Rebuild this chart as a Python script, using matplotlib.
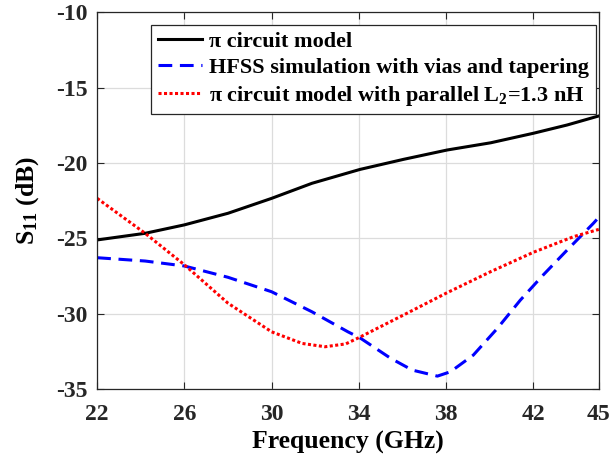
import numpy as np
import matplotlib
matplotlib.use('Agg')
from matplotlib import pyplot as plt

plt.rcParams['font.family'] = ['Liberation Serif', 'DejaVu Serif']
plt.rcParams['font.weight'] = 'bold'
plt.rcParams['axes.unicode_minus'] = False
plt.rcParams['mathtext.fontset'] = 'custom'
plt.rcParams['mathtext.rm'] = 'Liberation Serif:bold'
plt.rcParams['mathtext.it'] = 'Liberation Serif:bold'
plt.rcParams['mathtext.bf'] = 'Liberation Serif:bold'

# pi circuit model
f_pi = [22, 24.2, 26, 28, 30, 31.85, 34.05, 36.05, 38.05, 40.05, 42, 43.55, 45]
s_pi = [-25.1, -24.66, -24.1, -23.33, -22.34, -21.34, -20.42, -19.75, -19.13, -18.65, -18.02, -17.47, -16.87]

# HFSS simulation
f_hfss = [22, 24.2, 26, 28, 30, 31.85, 33.5, 34.05, 35.45, 36.45, 37.6, 38.2, 39.25, 40.35,
          41.4, 42.45, 43.55, 44.75, 45]
s_hfss = [-26.28, -26.5, -26.83, -27.58, -28.54, -29.87, -31.2, -31.6, -32.95, -33.74, -34.14,
          -33.85, -32.74, -30.97, -29.1, -27.43, -25.77, -24.0, -23.6]

# pi model with parallel L2
f_l2 = [22, 24.2, 26, 28, 30, 31.4, 32.45, 33.4, 34.05, 36.2, 38.05, 40.05, 42, 43.85, 45]
s_l2 = [-22.34, -24.66, -26.75, -29.3, -31.2, -31.97, -32.19, -32.0, -31.55, -29.97, -28.6,
        -27.2, -25.92, -24.88, -24.4]

xticks = [22, 26, 30, 34, 38, 42, 45]
yticks = [-35, -30, -25, -20, -15, -10]

fig = plt.figure(figsize=(6.11, 4.61), dpi=100)
ax = fig.add_axes([0.159, 0.156, 0.821, 0.817])

ax.plot(f_pi, s_pi, color='black', lw=2.2, label=r'π circuit model')
ax.plot(f_hfss, s_hfss, color='blue', lw=2.2, dashes=(4.5, 2.5), label='HFSS simulation with vias and tapering')
ax.plot(f_l2, s_l2, color='red', lw=2.2, dashes=(1, 0.8), label=r'π circuit model with parallel L$_2$=1.3 nH')

ax.set_xlim(22, 45)
ax.set_ylim(-35, -10)
ax.set_xticks(xticks)
ax.set_yticks(yticks)
ax.grid(True, color='#dcdcdc', lw=0.9)
ax.set_axisbelow(True)
ax.tick_params(direction='in', top=True, right=True, labelsize=17, colors='#262626', length=5)
ax.tick_params(axis='x', pad=11)
ax.tick_params(axis='y', pad=7)
for sp in ax.spines.values():
    sp.set_color('#262626')
    sp.set_linewidth(0.9)
ax.set_xlabel('Frequency (GHz)', fontsize=18.5, fontweight='bold', labelpad=4)
ax.set_ylabel(r'S$_{11}$ (dB)', fontsize=18.5, fontweight='bold', labelpad=11)

leg = ax.legend(loc='upper right', bbox_to_anchor=(0.994, 0.967), fontsize=16, fancybox=False,
                framealpha=1, edgecolor='#262626', borderaxespad=0, handlelength=2.0,
                handletextpad=0.3, labelspacing=0.25, borderpad=0.3)
leg.get_frame().set_linewidth(0.9)

fig.savefig('out.png', dpi=100)
